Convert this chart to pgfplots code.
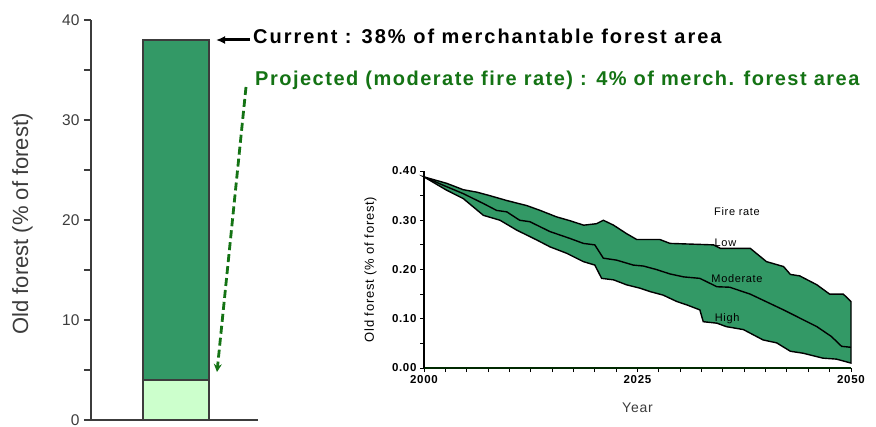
\documentclass[border=0pt]{standalone}
\usepackage{pgfplots}
\pgfplotsset{compat=1.18}
\usetikzlibrary{arrows.meta}
\usepackage{fontspec}
\setmainfont{Liberation Sans}
\newfontfamily\annfont[LetterSpace=7.5]{Liberation Sans}
\newfontfamily\curfont[LetterSpace=10]{Liberation Sans}
\newfontfamily\smallfont[LetterSpace=6]{Liberation Sans}
\definecolor{barGreen}{RGB}{51,153,102}
\definecolor{lightGreen}{RGB}{204,255,204}
\definecolor{projGreen}{RGB}{20,115,20}
\definecolor{axisGray}{RGB}{60,60,60}
\begin{document}
\begin{tikzpicture}[x=1pt,y=1pt]
\useasboundingbox (0,0) rectangle (876,426);
% ---------------- left bar axis ----------------
\begin{axis}[
  at={(91pt,6pt)}, anchor=south west,
  width=167pt, height=400pt, scale only axis,
  xmin=0, xmax=167, ymin=0, ymax=40,
  axis x line=bottom, axis y line=left,
  axis line style={-, line width=1.6pt, axisGray},
  xtick=\empty,
  ytick={0,10,20,30,40}, minor ytick={5,15,25,35},
  tick align=outside, major tick length=7pt, minor tick length=7pt,
  every tick/.style={line width=1.4pt, axisGray},
  yticklabel style={font=\fontsize{15.5}{15.5}\selectfont, text=axisGray, xshift=-1pt},
  /pgf/number format/assume math mode=true,
  ylabel={Old forest (\% of forest)},
  ylabel style={at={(axis description cs:-0.41,0.49)}, anchor=center,
    font=\fontsize{22}{22}\selectfont, text=axisGray},
  ybar stacked, bar width=66,
  clip=false,
]
\addplot[fill=lightGreen, draw=axisGray, line width=1.5pt] coordinates {(85,4)};
\addplot[fill=barGreen, draw=axisGray, line width=1.5pt] coordinates {(85,34)};
\draw[-{Latex[length=9pt,width=8pt]}, line width=3pt, black] (axis cs:159,38) -- (axis cs:125,38);
\draw[-{Stealth[length=8pt,width=8pt]}, line width=2.8pt, projGreen, dash pattern=on 8pt off 4pt]
  (axis cs:155,33.3) -- (axis cs:126,4.8);
\end{axis}
\node[anchor=west, inner sep=0pt, font=\curfont\bfseries\fontsize{20}{20}\selectfont] at (253,390) {Current : 38\% of merchantable forest area};
\node[anchor=west, inner sep=0pt, font=\annfont\bfseries\fontsize{20}{20}\selectfont, text=projGreen] at (255,346) {Projected (moderate fire rate) : 4\% of merch. forest area};
% ---------------- inset axis ----------------
\begin{axis}[
  at={(424pt,58pt)}, anchor=south west,
  width=427pt, height=197pt, scale only axis,
  xmin=2000, xmax=2050, ymin=0, ymax=0.4,
  axis x line=bottom, axis y line=left,
  axis line style={-, line width=1.3pt, black},
  x axis line style={line width=1.8pt, black!60!green!40!black},
  xtick={2000,2025,2050},
  minor xtick={2002.5,2005,2007.5,2010,2012.5,2015,2017.5,2020,2022.5,2027.5,2030,2032.5,2035,2037.5,2040,2042.5,2045,2047.5},
  ytick={0,0.1,0.2,0.3,0.4}, minor ytick={0.05,0.15,0.25,0.35},
  tick align=outside, major tick length=4pt, minor tick length=4pt,
  every tick/.style={line width=1pt, black},
  xticklabel style={font=\smallfont\bfseries\fontsize{11.5}{11.5}\selectfont, /pgf/number format/1000 sep={}},
  yticklabel style={font=\smallfont\bfseries\fontsize{11.5}{11.5}\selectfont, /pgf/number format/fixed, /pgf/number format/fixed zerofill, /pgf/number format/precision=2},
  /pgf/number format/assume math mode=true,
  xlabel={Year},
  xlabel style={at={(axis description cs:0.5,-0.2)}, anchor=center, font=\smallfont\fontsize{14}{14}\selectfont, text=axisGray},
  ylabel={Old forest (\% of forest)},
  ylabel style={at={(axis description cs:-0.125,0.5)}, anchor=center, font=\smallfont\fontsize{13}{13}\selectfont},
  clip=false,
]
% band: Low (upper) forward, then High (lower) backward
\addplot[fill=barGreen, draw=black, line width=1.4pt] coordinates {
(2000,0.388) (2002.65,0.375) (2004.6,0.362) (2006.2,0.357) (2007.7,0.35) (2009.7,0.34)
(2012.0,0.33) (2013.6,0.32) (2015.5,0.307) (2017.1,0.299) (2018.7,0.29) (2020.2,0.293)
(2021.0,0.30) (2022.2,0.29) (2023.7,0.273) (2024.9,0.261) (2027.6,0.261) (2028.8,0.253)
(2033.9,0.25) (2034.7,0.243) (2038.2,0.243) (2040.1,0.216) (2042.1,0.206) (2042.9,0.19)
(2044.0,0.187) (2046.0,0.169) (2047.5,0.15) (2049.1,0.15) (2050,0.135)
(2050,0.01) (2048.3,0.018) (2046.7,0.02) (2044.4,0.03) (2042.9,0.034) (2041.3,0.051)
(2039.7,0.057) (2037.4,0.078) (2035.4,0.084) (2034.3,0.091) (2032.7,0.094) (2032.3,0.118)
(2030.8,0.128) (2029.6,0.135) (2028.0,0.148) (2026.5,0.155) (2025.3,0.162) (2023.7,0.169)
(2022.2,0.179) (2020.8,0.182) (2020.0,0.209) (2018.66,0.216) (2016.7,0.233) (2014.75,0.246)
(2013.2,0.26) (2010.85,0.28) (2008.9,0.30) (2006.95,0.31) (2004.6,0.344) (2002.65,0.361)
(2000,0.388)} -- cycle;
\addplot[black, line width=1.4pt] coordinates {
(2000,0.388) (2002.26,0.371) (2004.6,0.354) (2006.95,0.334) (2008.5,0.32) (2009.7,0.317)
(2011.2,0.30) (2012.4,0.297) (2014.75,0.277) (2017.1,0.263) (2018.66,0.253) (2020.0,0.25)
(2021.0,0.223) (2022.56,0.219) (2024.5,0.209) (2025.7,0.207) (2027.2,0.20) (2028.8,0.191)
(2030.4,0.185) (2032.3,0.182) (2034.3,0.165) (2035.8,0.164) (2038.2,0.15) (2042.1,0.118)
(2046.0,0.084) (2047.7,0.064) (2048.9,0.044) (2050,0.042)};
\node[font=\smallfont\fontsize{11}{11}\selectfont] at (axis cs:2036.65,0.317) {Fire rate};
\node[font=\smallfont\fontsize{11}{11}\selectfont] at (axis cs:2035.3,0.254) {Low};
\node[font=\smallfont\fontsize{11}{11}\selectfont] at (axis cs:2036.65,0.182) {Moderate};
\node[font=\smallfont\fontsize{11}{11}\selectfont] at (axis cs:2035.5,0.101) {High};
\end{axis}
\end{tikzpicture}
\end{document}
